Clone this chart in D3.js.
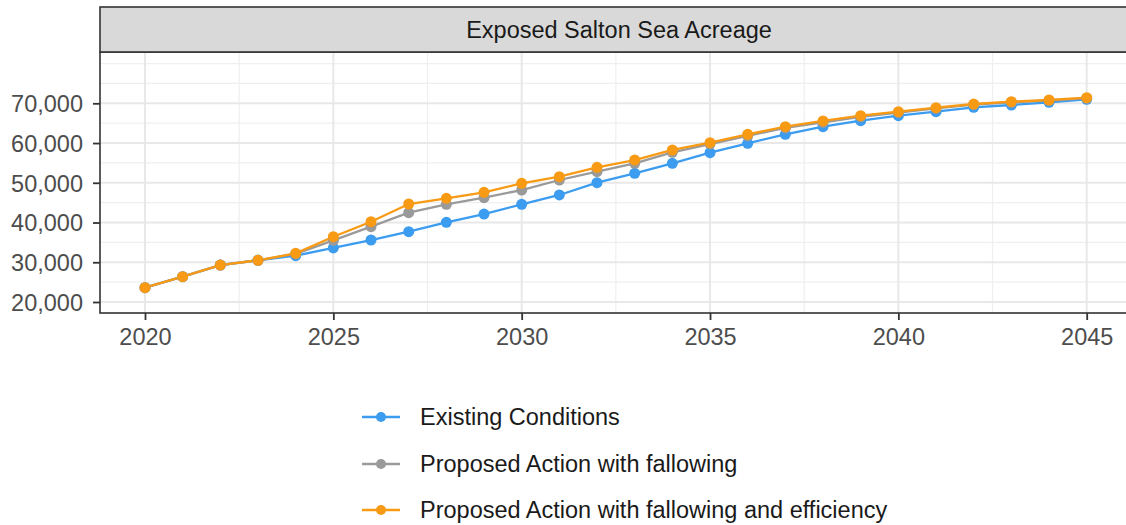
<!DOCTYPE html>
<html><head><meta charset="utf-8">
<script src="https://cdn.jsdelivr.net/npm/d3@7"></script>
<style>html,body{margin:0;padding:0;background:#fff;} svg{display:block;font-family:"Liberation Sans",Arial,sans-serif;}</style>
</head><body>
<svg id="chart" width="1126" height="525"></svg>
<script>
const years = [2020,2021,2022,2023,2024,2025,2026,2027,2028,2029,2030,2031,2032,2033,2034,2035,2036,2037,2038,2039,2040,2041,2042,2043,2044,2045];
const existing = [23600,26370,29300,30500,31650,33600,35600,37690,40050,42140,44580,46930,50020,52380,54900,57570,59930,62200,64110,65620,66880,67890,68990,69570,70250,71000];
const fallowing = [23600,26370,29300,30500,32100,35500,38950,42470,44580,46250,48180,50700,52790,54900,57670,59750,61800,63800,65200,66600,67650,68700,69650,70250,70700,71250];
const efficiency = [23600,26370,29300,30500,32250,36430,40200,44660,46100,47600,49870,51530,53900,55730,58250,60090,62200,64110,65550,66880,67890,68890,69820,70400,70830,71410];
const seriesNames = ["Existing Conditions","Proposed Action with fallowing","Proposed Action with fallowing and efficiency"];
const seriesColors = ["#3b9cf0","#9a9a9a","#f89a14"];
const yTicks = [20000,30000,40000,50000,60000,70000];
const yMinor = [25000,35000,45000,55000,65000,75000,80000];
const xTicks = [2020,2025,2030,2035,2040,2045];
const xMinor = [2022.5,2027.5,2032.5,2037.5,2042.5];
const title = "Exposed Salton Sea Acreage";

const FONT = "Liberation Sans, Arial, sans-serif";
const svg = d3.select("#chart");
const panel = {left:100, right:1138, top:52, bottom:313};
const x = d3.scaleLinear().domain([2020,2045]).range([145,1086.7]);
const y = d3.scaleLinear().domain([20000,70000]).range([302,103.3]);

svg.append("rect").attr("x",panel.left).attr("y",panel.top).attr("width",panel.right-panel.left).attr("height",panel.bottom-panel.top).attr("fill","#fff");

const grid = svg.append("g");
grid.selectAll(".ymin").data(yMinor).join("line").attr("x1",panel.left).attr("x2",panel.right).attr("y1",d=>y(d)).attr("y2",d=>y(d)).attr("stroke","#efefef").attr("stroke-width",1.2);
grid.selectAll(".xmin").data(xMinor).join("line").attr("y1",panel.top).attr("y2",panel.bottom).attr("x1",d=>x(d)).attr("x2",d=>x(d)).attr("stroke","#efefef").attr("stroke-width",1.2);
grid.selectAll(".ymaj").data(yTicks).join("line").attr("x1",panel.left).attr("x2",panel.right).attr("y1",d=>y(d)).attr("y2",d=>y(d)).attr("stroke","#e8e8e8").attr("stroke-width",2);
grid.selectAll(".xmaj").data(xTicks).join("line").attr("y1",panel.top).attr("y2",panel.bottom).attr("x1",d=>x(d)).attr("x2",d=>x(d)).attr("stroke","#e8e8e8").attr("stroke-width",2);

const all = [existing, fallowing, efficiency];
const line = d3.line().x((d,i)=>x(years[i])).y(d=>y(d));
const plot = svg.append("g");
all.forEach((s,k)=>{
  plot.append("path").datum(s).attr("d",line).attr("fill","none").attr("stroke",seriesColors[k]).attr("stroke-width",2.3);
});
all.forEach((s,k)=>{
  plot.append("g").selectAll("circle").data(s).join("circle").attr("cx",(d,i)=>x(years[i])).attr("cy",d=>y(d)).attr("r",5.5).attr("fill",seriesColors[k]);
});

svg.append("rect").attr("x",panel.left).attr("y",panel.top).attr("width",panel.right-panel.left).attr("height",panel.bottom-panel.top).attr("fill","none").attr("stroke","#333").attr("stroke-width",1.6);

svg.append("rect").attr("x",panel.left).attr("y",7).attr("width",panel.right-panel.left).attr("height",panel.top-7).attr("fill","#d9d9d9").attr("stroke","#333").attr("stroke-width",1.6);
svg.append("text").attr("x",(panel.left+panel.right)/2).attr("y",38).attr("text-anchor","middle").attr("font-size",23.5).attr("fill","#1a1a1a").text(title);

const yAxis = d3.axisLeft(y).tickValues(yTicks).tickSize(7).tickPadding(10).tickFormat(d3.format(","));
const gy = svg.append("g").attr("transform",`translate(${panel.left},0)`).call(yAxis);
gy.select(".domain").remove();
gy.selectAll(".tick line").attr("stroke","#333").attr("stroke-width",1.8);
gy.selectAll(".tick text").attr("font-size",23.5).attr("fill","#4d4d4d").attr("font-family",FONT).attr("dy","0.36em");

const xAxis = d3.axisBottom(x).tickValues(xTicks).tickSize(7).tickPadding(8).tickFormat(d3.format("d"));
const gx = svg.append("g").attr("transform",`translate(0,${panel.bottom})`).call(xAxis);
gx.select(".domain").remove();
gx.selectAll(".tick line").attr("stroke","#333").attr("stroke-width",1.8);
gx.selectAll(".tick text").attr("font-size",23.5).attr("fill","#4d4d4d").attr("font-family",FONT);

const lg = svg.append("g");
const rows = [417,464,510];
seriesNames.forEach((n,k)=>{
  const g = lg.append("g").attr("transform",`translate(0,${rows[k]})`);
  g.append("line").attr("x1",362).attr("x2",400).attr("y1",0).attr("y2",0).attr("stroke",seriesColors[k]).attr("stroke-width",2.3);
  g.append("circle").attr("cx",381).attr("cy",0).attr("r",5).attr("fill",seriesColors[k]);
  g.append("text").attr("x",420).attr("y",0).attr("dy","0.36em").attr("font-size",23.5).attr("fill","#1a1a1a").text(n);
});
</script>
</body></html>
